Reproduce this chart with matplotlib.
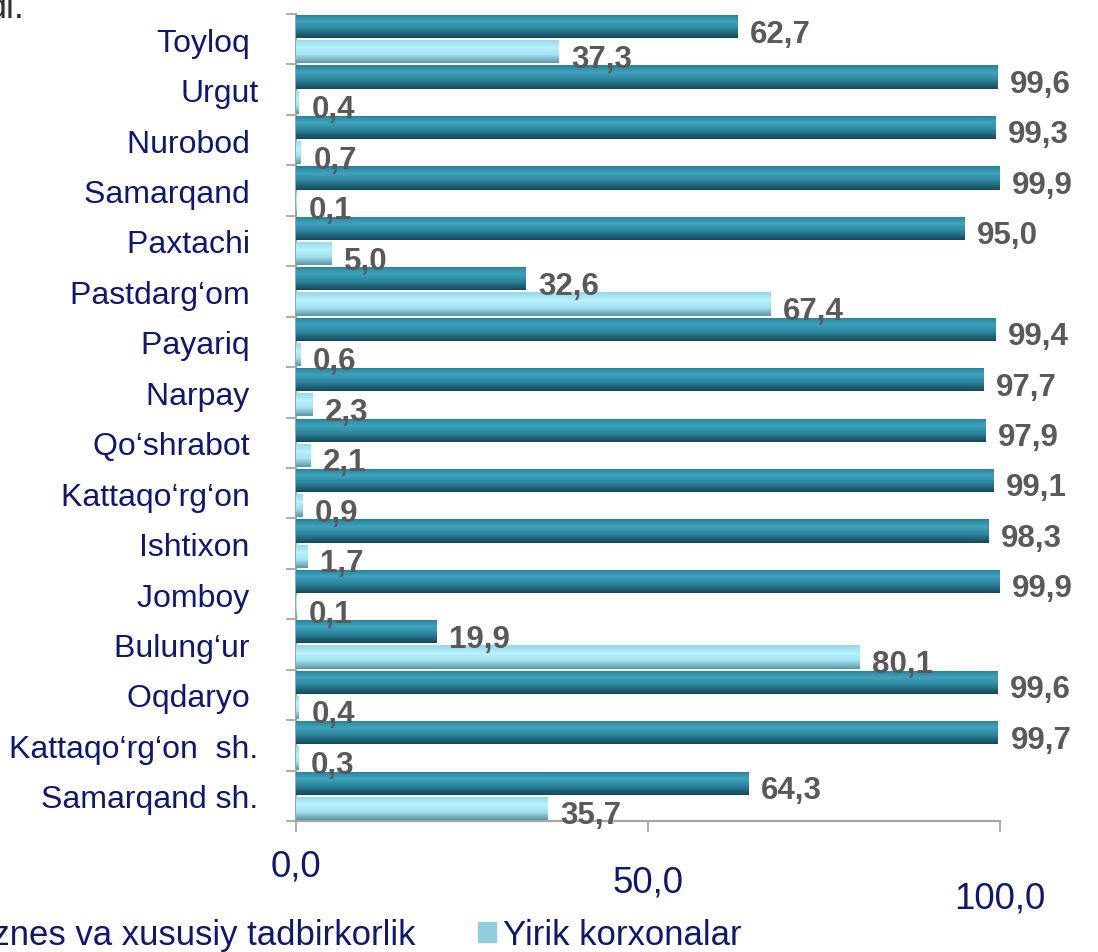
import numpy as np
import matplotlib
matplotlib.use("Agg")
import matplotlib.pyplot as plt
from matplotlib.colors import LinearSegmentedColormap
from matplotlib.patches import Rectangle

plt.rcParams['font.family'] = ['Liberation Sans', 'DejaVu Sans']

categories = ["Toyloq ", "Urgut", "Nurobod ", "Samarqand ", "Paxtachi ", "Pastdarg\u2018om ",
              "Payariq ", "Narpay ", "Qo\u2018shrabot ", "Kattaqo\u2018rg\u2018on ", "Ishtixon ",
              "Jomboy ", "Bulung\u2018ur ", "Oqdaryo ", "Kattaqo\u2018rg\u2018on  sh.", "Samarqand sh."]
small_business = [62.7, 99.6, 99.3, 99.9, 95.0, 32.6, 99.4, 97.7, 97.9, 99.1, 98.3, 99.9, 19.9, 99.6, 99.7, 64.3]
large_enterprises = [37.3, 0.4, 0.7, 0.1, 5.0, 67.4, 0.6, 2.3, 2.1, 0.9, 1.7, 0.1, 80.1, 0.4, 0.3, 35.7]
series_names = ["Kichik biznes va xususiy tadbirkorlik", "Yirik korxonalar"]
xticks = [0, 50, 100]
xticklabels = ["0,0", "50,0", "100,0"]

W, H = 1098, 953
NAVY = "#0E1870"
fig = plt.figure(figsize=(W / 100, H / 100), dpi=100)
fig.patch.set_facecolor("white")
ax = fig.add_axes([296 / W, 1 - 822 / H, 704 / W, (822 - 15) / H])

dark_cmap = LinearSegmentedColormap.from_list("d", [(0, "#2A7F96"), (0.3, "#3FA3BD"), (0.6, "#2E88A1"), (1, "#16475A")])
light_cmap = LinearSegmentedColormap.from_list("l", [(0, "#96D6E6"), (0.35, "#B6F2FF"), (0.65, "#A3E2F1"), (1, "#5E96A5")])

y = np.arange(len(categories))
h = 0.46
off = 0.25
grad = np.linspace(0, 1, 64).reshape(-1, 1)

def draw_bars(vals, ypos, cmap, base):
    bars = ax.barh(ypos, vals, height=h, color=base, edgecolor="none", zorder=2)
    for b in bars:
        x0, y0 = b.get_x(), b.get_y()
        w, hh = b.get_width(), b.get_height()
        im = ax.imshow(cmap(grad), extent=(x0, x0 + w, y0 + hh, y0), origin="upper",
                       aspect="auto", zorder=3, interpolation="bilinear")
        im.set_clip_path(b)
    return bars

bars_d = draw_bars(small_business, y - off, dark_cmap, "#31859C")
bars_l = draw_bars(large_enterprises, y + off, light_cmap, "#A5E6F5")

def fmt(v):
    return f"{v:.1f}".replace(".", ",")

for vals, ypos in ((small_business, y - off), (large_enterprises, y + off)):
    for v, yy in zip(vals, ypos):
        ax.annotate(fmt(v), (v, yy), xytext=(9, -5), textcoords="offset points", ha="left", va="center",
                    fontsize=22.5, fontweight="bold", color="#595959", annotation_clip=False)

ax.set_xlim(0, 100)
ax.set_ylim(len(categories) - 0.5, -0.5)

ax.set_yticks(y)
ax.set_yticklabels(categories, fontsize=23, color=NAVY)
ax.tick_params(axis="y", which="major", length=0, pad=27)
ax.set_yticks(np.arange(-0.5, len(categories), 1), minor=True)
ax.tick_params(axis="y", which="minor", length=7, width=1.3, color="#A6A6A6", direction="out")

ax.set_xticks(xticks)
ax.set_xticklabels(xticklabels, fontsize=26.5, color=NAVY)
ax.tick_params(axis="x", which="major", length=8, width=1.3, color="#A6A6A6", direction="out")
for tk, p in zip(ax.xaxis.get_major_ticks(), [12, 23, 35]):
    tk.set_pad(p)

for s in ["top", "right"]:
    ax.spines[s].set_visible(False)
for s in ["left", "bottom"]:
    ax.spines[s].set_color("#A6A6A6")
    ax.spines[s].set_linewidth(1.6)

# legend
handles = [Rectangle((0, 0), 1, 1, color="#31859C"), Rectangle((0, 0), 1, 1, color="#93CDDD")]
fig.legend(handles, series_names, loc="center right", bbox_to_anchor=(742 / W, 1 - 936 / H),
           ncol=2, frameon=False, fontsize=25, labelcolor=NAVY, borderpad=0,
           borderaxespad=0, handlelength=0.52, handleheight=0.52, handletextpad=0.2,
           columnspacing=1.8)

fig.text(-0.012, 1 - 18 / H, "di.", fontsize=26, color="#333333", ha="left", va="baseline")

fig.savefig("out.png", dpi=100, facecolor="white")
